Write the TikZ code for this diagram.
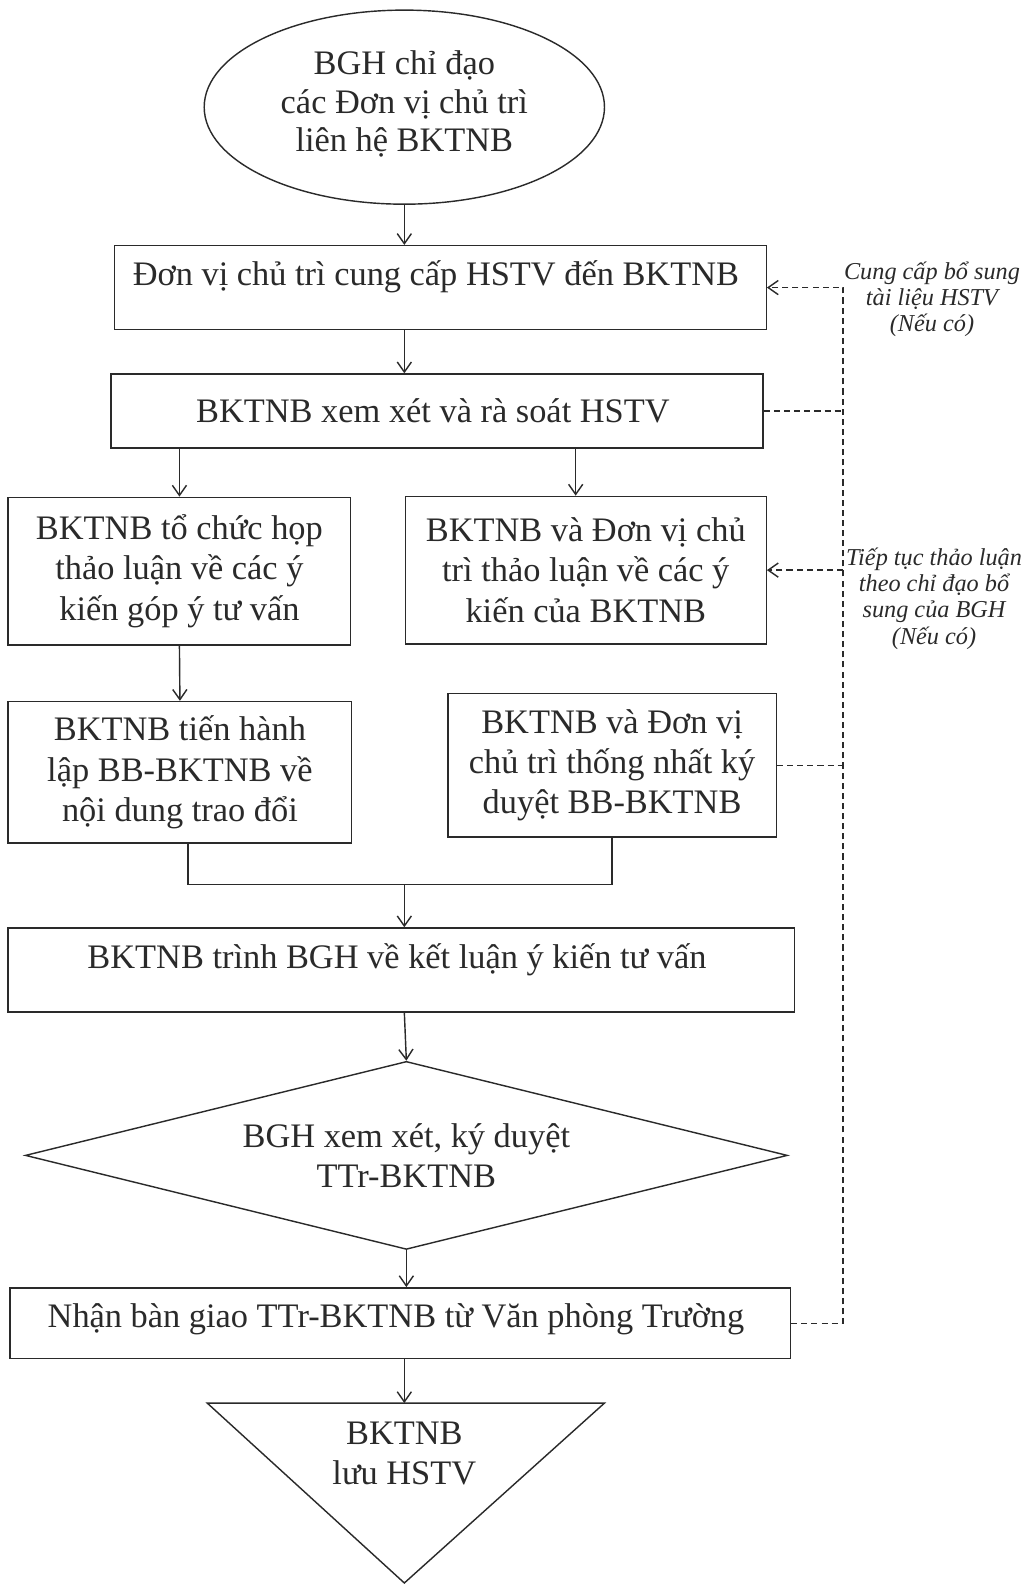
\documentclass[tikz,border=0pt]{standalone}
\usepackage{fontspec}
\setmainfont{Liberation Serif}
\usepackage{tikz}
\usetikzlibrary{arrows.meta,shapes.geometric}
\definecolor{ink}{HTML}{2A2A2A}

\begin{document}
\begin{tikzpicture}[
  x=0.5pt, y=-0.5pt,
  box/.style={
    draw=ink,
    line width=0.7pt,
    inner sep=0pt,
    align=center,
    text=ink,
    font=\fontsize{17}{20}\selectfont
  },
  arr/.style={-{Straight Barb[length=5pt,width=7pt]}, line width=0.7pt, draw=ink},
  fb/.style={dash pattern=on 3pt off 2pt, line width=0.7pt, draw=ink},
  note/.style={align=center, text=ink, font=\fontsize{12}{13}\selectfont\itshape}
]
\useasboundingbox[fill=white] (0,0) rectangle (1016,1568);

\node[box, ellipse, minimum width=198pt, minimum height=96pt, font=\fontsize{17}{19}\selectfont, text depth=6pt] (start) at (400,106) {
  BGH chỉ đạo\\
  các Đơn vị chủ trì\\
  liên hệ BKTNB
};

\node[box, minimum width=322.5pt, minimum height=41.5pt, text depth=14pt] (supply) at (435.5,284.5) {
  Đơn vị chủ trì cung cấp HSTV đến BKTNB
};

\node[box, minimum width=322.5pt, minimum height=36.5pt] (review) at (432.5,406.5) {
  BKTNB xem xét và rà soát HSTV
};

\node[box, minimum width=169.5pt, minimum height=73pt] (meet) at (177.5,565) {
  BKTNB tổ chức họp\\
  thảo luận về các ý\\
  kiến góp ý tư vấn
};

\node[box, minimum width=178.5pt, minimum height=73pt] (discuss) at (579.5,564) {
  BKTNB và Đơn vị chủ\\
  trì thảo luận về các ý\\
  kiến của BKTNB
};

\node[box, minimum width=170pt, minimum height=70pt] (minutes) at (178,764) {
  BKTNB tiến hành\\
  lập BB-BKTNB về\\
  nội dung trao đổi
};

\node[box, minimum width=162.5pt, minimum height=71pt] (agree) at (605.5,757) {
  BKTNB và Đơn vị\\
  chủ trì thống nhất ký\\
  duyệt BB-BKTNB
};

\node[box, minimum width=389pt, minimum height=41.5pt, text depth=14pt] (report) at (397,959.5) {
  BKTNB trình BGH về kết luận ý kiến tư vấn
};

\node[box, diamond, shape aspect=4, minimum width=377pt, minimum height=93pt] (approve) at (402,1143) {
  BGH xem xét, ký duyệt\\
  TTr-BKTNB
};

\node[box, minimum width=386pt, minimum height=35pt, text depth=8pt] (handover) at (396,1309) {
  Nhận bàn giao TTr-BKTNB từ Văn phòng Trường
};

\draw[draw=ink, line width=0.7pt] (205,1388) -- (598,1388) -- (400,1566) -- cycle;
\coordinate (storetop) at (400,1388);
\node[align=center, text=ink, font=\fontsize{17}{20}\selectfont] (store) at (400,1438) {
  BKTNB\\
  lưu HSTV
};

\node[note] (note1) at (922,296) {
  Cung cấp bổ sung\\
  tài liệu HSTV\\
  (Nếu có)
};

\node[note] (note2) at (924,592) {
  Tiếp tục thảo luận\\
  theo chỉ đạo bổ\\
  sung của BGH\\
  (Nếu có)
};

\coordinate (spine) at (400,0);
\coordinate (rail) at (834,0);
\coordinate (join) at (400,875);

\draw[arr] (start.south) -- (spine |- supply.north);
\draw[arr] (spine |- supply.south) -- (spine |- review.north);
\draw[arr] (meet.north |- review.south) -- (meet.north);
\draw[arr] ([xshift=-5pt]discuss.north |- review.south) -- ([xshift=-5pt]discuss.north);
\draw[arr] (meet.south) -- (minutes.north);
\draw[draw=ink, line width=0.7pt] ([xshift=4pt]minutes.south) |- (join) -| (agree.south);
\draw[arr] (join) -- (spine |- report.north);
\draw[arr] (spine |- report.south) -- (approve.north);
\draw[arr] (approve.south) -- (approve.south |- handover.north);
\draw[arr] (spine |- handover.south) -- (storetop);

\draw[fb, -{Straight Barb[length=5pt,width=7pt]}] (handover.east) -| (rail |- supply.east) -- (supply.east);
\draw[fb] (review.east) -- (review.east -| rail);
\draw[fb, -{Straight Barb[length=5pt,width=7pt]}] (discuss.east -| rail) -- (discuss.east);
\draw[fb] (agree.east) -- (agree.east -| rail);

\end{tikzpicture}
\end{document}
